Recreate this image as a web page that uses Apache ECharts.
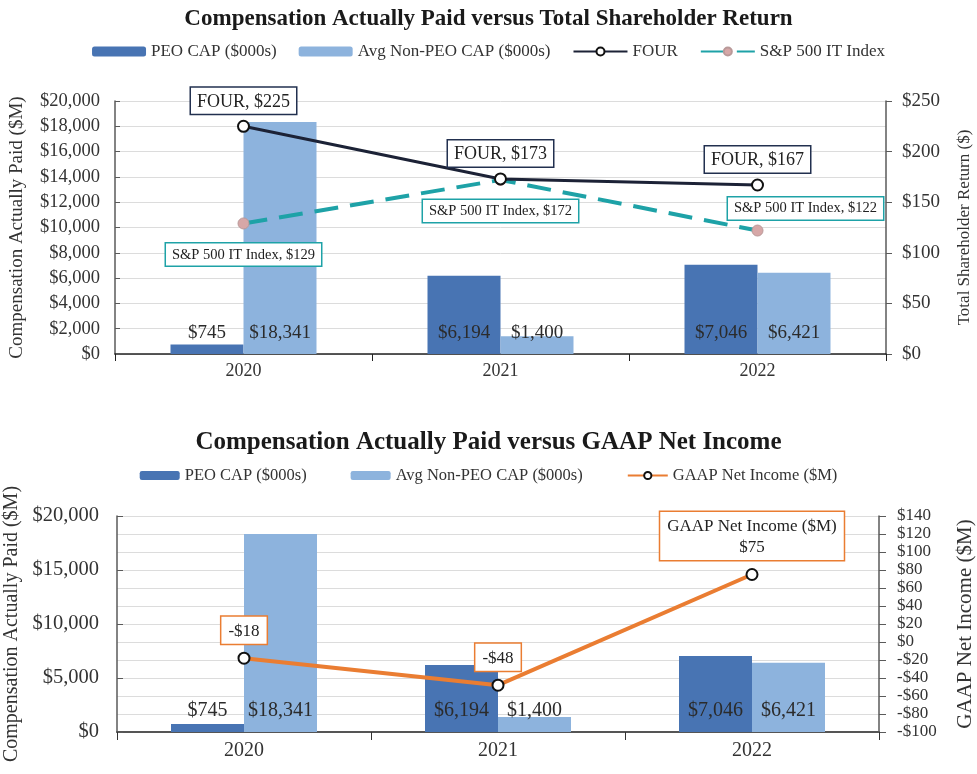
<!DOCTYPE html>
<html>
<head>
<meta charset="utf-8">
<script src="https://cdn.jsdelivr.net/npm/echarts@6/dist/echarts.min.js"></script>
<style>
html,body{margin:0;padding:0;background:#fff;}
#c{width:977px;height:774px;}
</style>
</head>
<body>
<div id="c"></div>
<script>
// ---- data ----
const years = ['2020', '2021', '2022'];
const peoCap = [745, 6194, 7046];
const avgNonPeoCap = [18341, 1400, 6421];
const fourTsr = [225, 173, 167];
const spItTsr = [129, 172, 122];
const gaapNetIncome = [-18, -48, 75];

const title1 = 'Compensation Actually Paid versus Total Shareholder Return';
const title2 = 'Compensation Actually Paid versus GAAP Net Income';
const nPeo = 'PEO CAP ($000s)';
const nAvg = 'Avg Non-PEO CAP ($000s)';
const nFour = 'FOUR';
const nSp = 'S&P 500 IT Index';
const nGaap = 'GAAP Net Income ($M)';

// ---- styling ----
const F = 'Liberation Serif, Times New Roman, serif';
const cPeo = '#4874b3';
const cAvg = '#8db3dd';
const cFour = '#1c2236';
const cSp = '#1ea2a7';
const cGaap = '#ea7d32';
const txt = '#333333';
const axisC = '#5a5a5a';
const gridC = '#dcdcdc';

function money(v) {
  const s = '$' + Math.abs(v).toLocaleString('en-US');
  return v < 0 ? '-' + s : s;
}

const spLabelPos = [
  {position: 'bottom', distance: 14, offset: [0, 0]},
  {position: 'bottom', distance: 14, offset: [0, 0]},
  {position: 'inside', offset: [48, -22]}
];

const chart = echarts.init(document.getElementById('c'));

function barLabel(size) {
  return {
    show: true, position: 'insideBottom', distance: 11,
    fontFamily: F, fontSize: size, color: '#2b2b2b',
    formatter: p => money(p.value)
  };
}

chart.setOption({
  animation: false,
  backgroundColor: '#fff',
  title: [
    {text: title1, left: 'center', top: 3,
     textStyle: {fontFamily: F, fontSize: 23, fontWeight: 'bold', color: '#1a1a1a'}},
    {text: title2, left: 'center', top: 425,
     textStyle: {fontFamily: F, fontSize: 25, fontWeight: 'bold', color: '#1a1a1a'}}
  ],
  legend: [
    {data: [nPeo, nAvg, nFour, nSp], top: 38, left: 'center', itemWidth: 54, itemHeight: 10, itemGap: 22,
     textStyle: {fontFamily: F, fontSize: 17, color: txt}},
    {data: [nPeo, nAvg, nGaap], top: 462, left: 'center', itemWidth: 40, itemHeight: 9, itemGap: 44,
     textStyle: {fontFamily: F, fontSize: 16.5, color: txt}}
  ],
  grid: [
    {left: 115, right: 91, top: 101, bottom: 420, containLabel: false, outerBoundsMode: 'none'},
    {left: 117, right: 98, top: 516, bottom: 42, containLabel: false, outerBoundsMode: 'none'}
  ],
  xAxis: [
    {type: 'category', gridIndex: 0, data: years,
     axisLine: {lineStyle: {color: '#222', width: 1.5}},
     axisTick: {show: true, length: 7, lineStyle: {color: '#222'}},
     axisLabel: {fontFamily: F, fontSize: 18, color: txt, margin: 8}},
    {type: 'category', gridIndex: 1, data: years,
     axisLine: {lineStyle: {color: '#555', width: 2}},
     axisTick: {show: true, length: 8, lineStyle: {color: '#333'}},
     axisLabel: {fontFamily: F, fontSize: 20, color: txt, margin: 9}}
  ],
  yAxis: [
    {type: 'value', gridIndex: 0, min: 0, max: 20000, interval: 2000,
     name: 'Compensation Actually Paid ($M)', nameLocation: 'middle', nameGap: 88,
     nameTextStyle: {fontFamily: F, fontSize: 19, color: txt},
     axisLine: {show: true, lineStyle: {color: axisC, width: 1.5}},
     axisTick: {show: true, inside: true, length: 5, lineStyle: {color: axisC}},
     axisLabel: {fontFamily: F, fontSize: 18.5, color: txt, margin: 15, showMinLabel: true, showMaxLabel: true,
       formatter: v => money(v)},
     splitLine: {show: true, lineStyle: {color: gridC}}},
    {type: 'value', gridIndex: 0, min: 0, max: 250, interval: 50, position: 'right',
     name: 'Total Shareholder Return ($)', nameLocation: 'middle', nameGap: 70, nameRotate: 90,
     nameTextStyle: {fontFamily: F, fontSize: 17, color: txt},
     axisLine: {show: true, lineStyle: {color: axisC, width: 1.5}},
     axisTick: {show: true, length: 6, lineStyle: {color: axisC}},
     axisLabel: {fontFamily: F, fontSize: 19, color: txt, margin: 16, showMinLabel: true, showMaxLabel: true,
       formatter: v => money(v)},
     splitLine: {show: false}},
    {type: 'value', gridIndex: 1, min: 0, max: 20000, interval: 5000,
     name: 'Compensation Actually Paid ($M)', nameLocation: 'middle', nameGap: 91,
     nameTextStyle: {fontFamily: F, fontSize: 20, color: txt},
     axisLine: {show: true, lineStyle: {color: axisC, width: 1.5}},
     axisTick: {show: true, inside: true, length: 6, lineStyle: {color: axisC}},
     axisLabel: {fontFamily: F, fontSize: 20.5, color: txt, margin: 18, showMinLabel: true, showMaxLabel: true,
       formatter: v => money(v)},
     splitLine: {show: false}},
    {type: 'value', gridIndex: 1, min: -100, max: 140, interval: 20, position: 'right',
     name: 'GAAP Net Income ($M)', nameLocation: 'middle', nameGap: 76, nameRotate: 90,
     nameTextStyle: {fontFamily: F, fontSize: 21, color: txt, padding: [0, 0, 14, 0]},
     axisLine: {show: true, lineStyle: {color: axisC, width: 1.5}},
     axisTick: {show: true, length: 7, lineStyle: {color: axisC}},
     axisLabel: {fontFamily: F, fontSize: 17, color: txt, margin: 18,
       formatter: v => money(v)},
     splitLine: {show: true, lineStyle: {color: gridC}}}
  ],
  series: [
    {name: nPeo, type: 'bar', xAxisIndex: 0, yAxisIndex: 0, data: peoCap,
     barWidth: 73, barGap: '0%', itemStyle: {color: cPeo}, label: barLabel(19)},
    {name: nAvg, type: 'bar', xAxisIndex: 0, yAxisIndex: 0, data: avgNonPeoCap,
     barWidth: 73, barGap: '0%', itemStyle: {color: cAvg}, label: barLabel(19)},
    {name: nFour, type: 'line', xAxisIndex: 0, yAxisIndex: 1, data: fourTsr, z: 5,
     symbol: 'circle', symbolSize: 11,
     lineStyle: {color: cFour, width: 3},
     itemStyle: {color: '#fff', borderColor: '#111', borderWidth: 2},
     label: {show: true, position: 'top', distance: 6,
       formatter: p => nFour + ', ' + money(p.value),
       fontFamily: F, fontSize: 18, color: '#222', backgroundColor: '#fff',
       borderColor: '#22304f', borderWidth: 1.5, padding: [5, 6, 3, 6]}},
    {name: nSp, type: 'line', xAxisIndex: 0, yAxisIndex: 1, z: 4,
     data: spItTsr.map((v, i) => ({value: v, label: spLabelPos[i]})),
     symbol: 'circle', symbolSize: 11,
     lineStyle: {color: cSp, width: 4, type: [24, 12]},
     itemStyle: {color: '#d6a7a7', borderColor: '#b99999', borderWidth: 1},
     label: {show: true,
       formatter: p => nSp + ', ' + money(p.value),
       fontFamily: F, fontSize: 14.5, color: '#222', backgroundColor: '#fff',
       borderColor: cSp, borderWidth: 1.5, padding: [4, 6, 3, 6]}},
    {name: nPeo, type: 'bar', xAxisIndex: 1, yAxisIndex: 2, data: peoCap,
     barWidth: 73, barGap: '0%', itemStyle: {color: cPeo}, label: barLabel(20)},
    {name: nAvg, type: 'bar', xAxisIndex: 1, yAxisIndex: 2, data: avgNonPeoCap,
     barWidth: 73, barGap: '0%', itemStyle: {color: cAvg}, label: barLabel(20)},
    {name: nGaap, type: 'line', xAxisIndex: 1, yAxisIndex: 3, z: 5,
     data: gaapNetIncome,
     symbol: 'circle', symbolSize: 11,
     lineStyle: {color: cGaap, width: 4},
     itemStyle: {color: '#fff', borderColor: '#111', borderWidth: 2},
     label: {show: true, position: 'top', distance: 8,
       formatter: p => (p.dataIndex === gaapNetIncome.length - 1 ? nGaap + '\n' : '') + money(p.value),
       fontFamily: F, fontSize: 17, lineHeight: 21, color: '#222', backgroundColor: '#fff',
       borderColor: cGaap, borderWidth: 1.5, padding: [4, 7, 2, 7], align: 'center'}}
  ]
});
</script>
</body>
</html>
